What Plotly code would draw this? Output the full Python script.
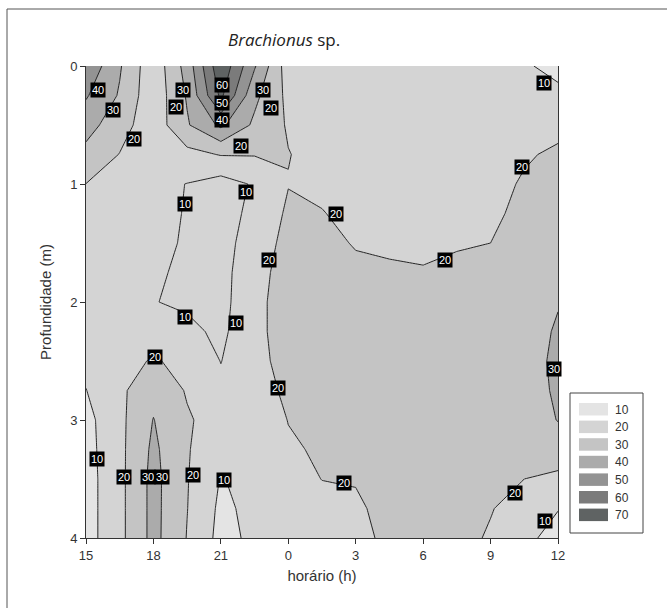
import plotly.graph_objects as go
from collections import deque

# ---------------- data ----------------
# elapsed hours since 15 h (x), depth in m (y)
hours = [0, 1.5, 3, 4.5, 6, 7.5, 9, 10.5, 12, 13.5, 15, 16.5, 18, 19.5, 21]
depths = [0, 0.25, 0.5, 0.75, 1.0, 1.25, 1.5, 1.75, 2.0, 2.25, 2.5, 2.75, 3.0, 3.25, 3.5, 3.75, 4.0]

# density profiles (one list per sampling time, top to bottom)
d_15h00 = [48, 41, 34, 27, 19.9, 18, 17, 16, 15, 14, 12.5, 9.8, 7, 6.5, 6, 6, 6]
d_16h30 = [31, 29, 24, 19.7, 16, 15, 14.5, 14, 14, 14.5, 16, 18, 17.6, 17.5, 17.4, 17.4, 17.4]
d_18h00 = [13, 13, 14, 13, 12.5, 11.5, 11.5, 11, 10.3, 13, 21, 27, 30.3, 32, 33, 33, 33]
d_19h30 = [34, 31, 29, 17, 9.8, 9.7, 9.4, 8.7, 8.5, 12.3, 17, 19.2, 21, 20.8, 20.5, 20.2, 19.6]
d_21h00 = [68, 62, 42, 20.5, 6, 6, 6.5, 7, 7, 8, 9.8, 12, 16, 12.5, 9.5, 8, 7]
d_22h30 = [41, 32.5, 28, 20.5, 11, 12.5, 14.5, 16, 17, 17, 16.5, 15.5, 14.5, 13.5, 13, 12.5, 12]
d_00h00 = [14.75, 17.5, 19, 20.3, 19.7, 21.5, 23, 24.5, 25, 25, 24, 22, 20.2, 19, 17.5, 16.5, 16]
d_01h30 = [14, 15, 16, 17, 18.5, 20.3, 22, 23, 24, 24.5, 24.5, 24, 23, 21, 20.1, 18, 17]
d_03h00 = [14, 15, 16, 16.5, 17, 18, 19.5, 21.5, 23, 24, 24.5, 24.5, 24, 22, 20.4, 19, 18]
d_04h30 = [14, 15, 15.5, 16, 16.5, 17.5, 18.8, 21, 23, 24.5, 25, 25, 24.5, 23, 22.5, 22, 21.5]
d_06h00 = [14, 14.5, 15, 15.5, 16, 17, 18.5, 20.5, 23, 24.5, 25, 25, 25, 24.5, 24, 23.5, 23]
d_07h30 = [14, 14.5, 15, 15.5, 16.5, 17.5, 19.2, 22, 24, 25, 25.5, 25.5, 25, 25, 24.5, 23.5, 23]
d_09h00 = [13.5, 14, 15, 16, 17, 18.5, 20, 22, 24, 25, 26, 26, 25.5, 24, 22.5, 20.5, 19]
d_10h30 = [11, 13, 16, 19, 21, 22, 23, 24, 25, 26, 27, 27, 25, 22.5, 20, 16, 12]
d_12h00 = [7.5, 12, 17.5, 21.5, 23, 24, 25, 27, 29.5, 31, 31.5, 31, 30.3, 25, 18, 10.3, 7]

profiles = [d_15h00, d_16h30, d_18h00, d_19h30, d_21h00, d_22h30, d_00h00, d_01h30,
            d_03h00, d_04h30, d_06h00, d_07h30, d_09h00, d_10h30, d_12h00]

tick_hours = [0, 3, 6, 9, 12, 15, 18, 21]
tick_labels = ["15", "18", "21", "0", "3", "6", "9", "12"]
depth_ticks = [0, 1, 2, 3, 4]

level_labels = ["10", "20", "30", "40", "50", "60", "70"]
level_colors = ["#e4e4e4", "#d4d4d4", "#c4c4c4", "#ababab", "#939393", "#7b7b7b", "#5f6363"]

# contour labels as they appear on the chart: (hour, depth, text)
contour_labels = [
    (0.55, 0.20, "40"), (1.21, 0.37, "30"), (2.14, 0.62, "20"),
    (4.30, 0.20, "30"), (4.00, 0.35, "20"),
    (6.07, 0.16, "60"), (6.07, 0.31, "50"), (6.07, 0.46, "40"),
    (7.86, 0.20, "30"), (8.22, 0.36, "20"), (6.88, 0.68, "20"),
    (4.42, 1.17, "10"), (7.10, 1.07, "10"), (4.42, 2.13, "10"), (6.66, 2.18, "10"),
    (3.08, 2.47, "20"), (0.50, 3.33, "10"), (1.70, 3.48, "20"),
    (2.75, 3.48, "30"), (3.40, 3.48, "30"),
    (4.74, 3.47, "20"), (6.12, 3.51, "10"),
    (8.13, 1.64, "20"), (8.53, 2.73, "20"), (11.13, 1.25, "20"), (11.48, 3.53, "20"),
    (15.95, 1.64, "20"), (19.40, 0.86, "20"), (20.37, 0.14, "10"), (20.83, 2.57, "30"),
    (19.08, 3.62, "20"), (20.41, 3.86, "10"),
]

# ---------------- figure ----------------
z = [[p[i] for p in profiles] for i in range(len(depths))]
nr, nc = len(z), len(z[0])

# The original software leaves enclosed low basins (closed 10-contours not
# touching the frame) with the surrounding band colour: emulate for the fill.
low = 10
reached = [[False] * nc for _ in range(nr)]
q = deque()
for i in range(nr):
    for j in range(nc):
        if (i in (0, nr - 1) or j in (0, nc - 1)) and z[i][j] < low:
            reached[i][j] = True
            q.append((i, j))
while q:
    i, j = q.popleft()
    for di, dj in ((1, 0), (-1, 0), (0, 1), (0, -1)):
        a, b = i + di, j + dj
        if 0 <= a < nr and 0 <= b < nc and not reached[a][b] and z[a][b] < low:
            reached[a][b] = True
            q.append((a, b))
z_fill = [[(low + 0.5 if (z[i][j] < low and not reached[i][j]) else z[i][j])
           for j in range(nc)] for i in range(nr)]

n = len(level_colors)
colorscale = [[i / n, c] for i, c in enumerate(level_colors)] + [[1.0, level_colors[-1]]]

W, H = 667, 608
PX0, PX1, PY0, PY1 = 86, 558, 66, 538


def px(x):
    return (x - PX0) / (PX1 - PX0)


def py(y):
    return (PY1 - y) / (PY1 - PY0)


contour_cfg = dict(start=10, end=70, size=10, showlabels=False)

fig = go.Figure()
# filled bands
fig.add_trace(go.Contour(
    x=hours, y=depths, z=z_fill,
    autocontour=False,
    contours=dict(coloring="fill", **contour_cfg),
    colorscale=colorscale, showscale=False,
    line=dict(width=0, smoothing=0),
    hoverinfo="skip",
))
# contour lines
fig.add_trace(go.Contour(
    x=hours, y=depths, z=z,
    autocontour=False,
    contours=dict(coloring="lines", **contour_cfg),
    colorscale=[[0, "#262626"], [1, "#262626"]], showscale=False,
    line=dict(width=1, smoothing=0),
    hoverinfo="skip",
))

font_main = "Liberation Sans, Arial, sans-serif"

annotations = []
for hx, dy, txt in contour_labels:
    annotations.append(dict(
        x=hx, y=dy, xref="x", yref="y", text=txt, showarrow=False,
        font=dict(family=font_main, size=11, color="#ffffff"),
        bgcolor="#000000", borderpad=1,
    ))

shapes = []
# outer chart frame
shapes.append(dict(type="rect", xref="paper", yref="paper",
                   x0=px(7), x1=px(700), y0=py(9), y1=py(700),
                   line=dict(color="#555555", width=1), fillcolor="rgba(0,0,0,0)"))
# legend box
shapes.append(dict(type="rect", xref="paper", yref="paper",
                   x0=px(570), x1=px(643), y0=py(393), y1=py(533),
                   line=dict(color="#444444", width=1), fillcolor="white"))
for i, (lab, col) in enumerate(zip(level_labels, level_colors)):
    top = 403 + 17.6 * i
    shapes.append(dict(type="rect", xref="paper", yref="paper",
                       x0=px(579), x1=px(608), y0=py(top), y1=py(top + 12.5),
                       line=dict(width=0), fillcolor=col))
    annotations.append(dict(
        x=px(613), y=py(top + 6.5), xref="paper", yref="paper", text=lab,
        showarrow=False, xanchor="left", yanchor="middle",
        font=dict(family=font_main, size=12, color="#333333"),
    ))

# title
annotations.append(dict(
    x=px(284), y=py(40), xref="paper", yref="paper",
    text="<i>Brachionus</i> sp.", showarrow=False, xanchor="center", yanchor="middle",
    font=dict(family="Open Sans, sans-serif", size=17, color="#222222"),
))

fig.update_layout(
    width=W, height=H,
    margin=dict(l=PX0, r=W - PX1, t=PY0, b=H - PY1),
    paper_bgcolor="white", plot_bgcolor="white",
    showlegend=False,
    annotations=annotations, shapes=shapes,
    font=dict(family=font_main, size=13, color="#333333"),
    xaxis=dict(range=[0, 21], tickvals=tick_hours, ticktext=tick_labels,
               ticks="outside", ticklen=5, tickcolor="#333", showline=True,
               linecolor="#333", linewidth=1, showgrid=False, zeroline=False,
               tickfont=dict(size=13),
               title=dict(text="horário (h)", font=dict(size=15), standoff=8)),
    yaxis=dict(range=[4, 0], tickvals=depth_ticks, ticks="outside", ticklen=5,
               tickcolor="#333", showline=True, mirror=True, linecolor="#333",
               linewidth=1, showgrid=False, zeroline=False,
               tickfont=dict(size=13),
               title=dict(text="Profundidade (m)", font=dict(size=15), standoff=14)),
)

fig.write_html("out.html")
